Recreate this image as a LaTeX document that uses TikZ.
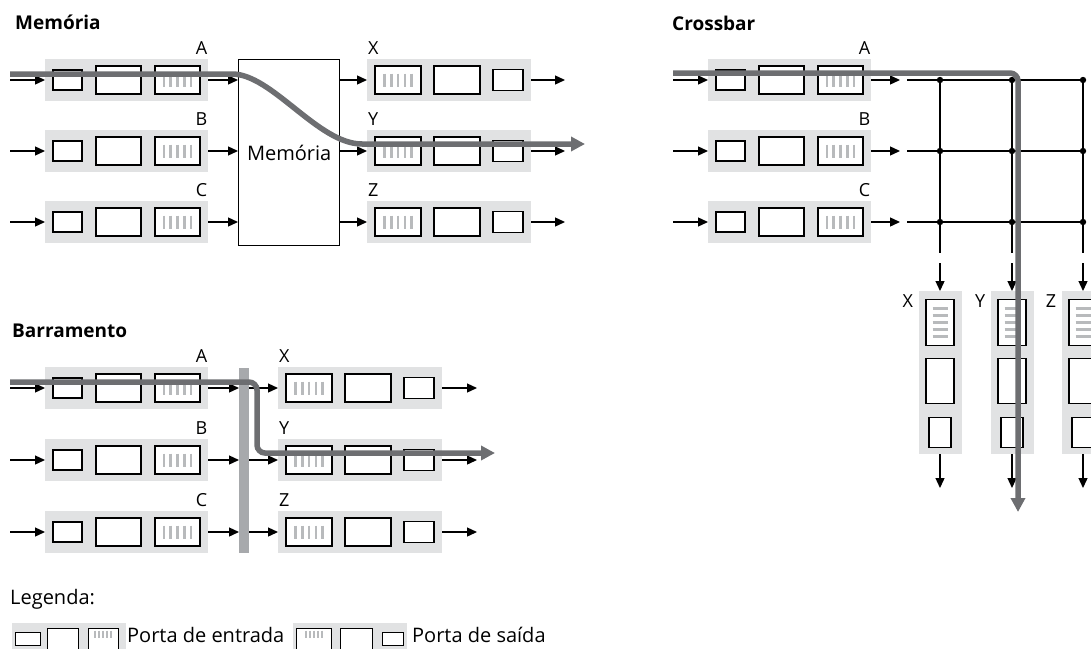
\documentclass[tikz,border=0pt]{standalone}
\usepackage{fontspec}
\setmainfont{Open Sans}
\usetikzlibrary{arrows.meta,positioning,calc}
\definecolor{bandgray}{HTML}{E1E2E3}
\definecolor{routegray}{HTML}{6D6E71}
\definecolor{busgray}{HTML}{A7A9AC}
\definecolor{stripegray}{HTML}{B8BABC}
% grey bars inside a buffer box
\newcommand{\vstripes}[1]{\foreach \k in {-2,...,2} \draw[stripegray,line width=2.6pt] ($(#1.center)+(\k*6.8,-6.5)$) -- ++(0,13);}
\newcommand{\hstripes}[1]{\foreach \k in {-2,...,2} \draw[stripegray,line width=2.6pt] ($(#1.center)+(-7.5,\k*7)$) -- ++(15,0);}
% input port: name, left x, centre y, label
\newcommand{\inport}[4]{%
  \node[band,anchor=west] (#1) at (#2,#3) {};
  \node[bx,minimum width=29pt,minimum height=20pt] (#1-s) at ($(#1.west)+(22.5,0)$) {};
  \node[bx,minimum width=45pt,minimum height=28pt] (#1-m) at ($(#1.west)+(73.5,0)$) {};
  \node[bx,minimum width=45pt,minimum height=28pt] (#1-q) at ($(#1.west)+(132.5,0)$) {};
  \vstripes{#1-q}
  \node[lbl,anchor=base east] (#1-l) at ($(#1.north east)+(-1,-4)$) {#4};
}
% output port: name, left x, centre y, label
\newcommand{\outport}[4]{%
  \node[band,anchor=west,minimum width=164pt] (#1) at (#2,#3) {};
  \node[bx,minimum width=46pt,minimum height=28pt] (#1-q) at ($(#1.west)+(31,0)$) {};
  \node[bx,minimum width=46pt,minimum height=28pt] (#1-m) at ($(#1.west)+(90,0)$) {};
  \node[bx,minimum width=30pt,minimum height=21pt] (#1-s) at ($(#1.west)+(141,0)$) {};
  \vstripes{#1-q}
  \node[lbl,anchor=base west] (#1-l) at ($(#1.north west)+(1,-4)$) {#4};
}
% output port standing upright: name, centre x, top y, label
\newcommand{\colport}[4]{%
  \node[band,anchor=north,minimum width=43pt,minimum height=163pt] (#1) at (#2,#3) {};
  \node[bx,minimum width=28pt,minimum height=46pt,anchor=north] (#1-q) at ($(#1.north)+(0,8)$) {};
  \node[bx,minimum width=28pt,minimum height=45pt,anchor=north] (#1-m) at ($(#1.north)+(0,67)$) {};
  \node[bx,minimum width=22pt,minimum height=30pt,anchor=north] (#1-s) at ($(#1.north)+(0,126)$) {};
  \hstripes{#1-q}
  \node[lbl,anchor=north east] (#1-l) at ($(#1.north west)+(-5,3)$) {#4};
}

\begin{document}
\begin{tikzpicture}[x=1pt,y=-1pt,
    band/.style={fill=bandgray,inner sep=0pt,minimum width=163pt,minimum height=42pt},
    bx/.style={draw,fill=white,line width=1.3pt,inner sep=0pt},
    lbl/.style={inner sep=0pt,font=\fontsize{18}{20}\selectfont},
    ttl/.style={inner sep=0pt,anchor=base west,font=\fontsize{19}{22}\selectfont\bfseries},
    txt/.style={inner sep=0pt,font=\fontsize{20}{24}\selectfont},
    ar/.style={-{Triangle[length=10pt,width=9pt]},line width=1.3pt},
    grid/.style={line width=1.5pt},
    route/.style={draw=routegray,line width=5.5pt,-{Triangle[length=14pt,width=14pt]}}
]
\useasboundingbox (0,0) rectangle (1091,648);
\clip (0,0) rectangle (1091,648);

% Memoria
\node[ttl] (t-mem) at (15,29) {Memória};
\node[draw,line width=1.3pt,minimum width=101pt,minimum height=186pt,anchor=north west,txt] (mem) at (238,59) {Memória};
\foreach \n/\y/\lin/\lout in {a/80/A/X,b/151/B/Y,c/222/C/Z}{
  \inport{mi\n}{45}{\y}{\lin}
  \outport{mo\n}{367}{\y}{\lout}
  \coordinate (mi\n-in) at (10,\y);
  \coordinate (mo\n-out) at (565,\y);
  \draw[ar] (mi\n-in) -- (mi\n);
  \draw[ar] (mi\n) -- (mi\n -| mem.west);
  \draw[ar] (mem.east |- mo\n) -- (mo\n);
  \draw[ar] (mo\n) -- (mo\n-out);
}
\coordinate (r1-s) at (10,74);
\coordinate (r1-e) at (585,144);
\draw[route] (r1-s) -- (232,74) .. controls (272,74) and (318,144) .. (362,144) -- (r1-e);

% Crossbar
\node[ttl] (t-xb) at (672,30) {Crossbar};
\foreach \n/\y/\lin in {a/80/A,b/151/B,c/222/C}{
  \inport{xi\n}{708}{\y}{\lin}
  \coordinate (xi\n-in) at (673,\y);
  \coordinate (xi\n-out) at (900,\y);
  \coordinate (h\n) at (907,\y);
  \draw[ar] (xi\n-in) -- (xi\n);
  \draw[ar] (xi\n) -- (xi\n-out);
}
\foreach \n/\x/\lout in {x/940/X,y/1012/Y,z/1083/Z}{
  \colport{xo\n}{\x}{291}{\lout}
  \coordinate (v\n-top) at (\x,80);
  \coordinate (v\n-end) at (\x,253);
  \coordinate (v\n-in) at (\x,263);
  \coordinate (v\n-out) at (\x,488);
  \draw[grid] (v\n-top) -- (v\n-end);
  \draw[ar] (v\n-in) -- (xo\n);
  \draw[ar] (xo\n) -- (v\n-out);
}
\foreach \n in {a,b,c}{
  \draw[grid] (h\n) -- (vz-top |- h\n);
  \foreach \m in {x,y,z} \fill (v\m-top |- h\n) circle (3.2pt);
}
\coordinate (r2-s) at (673,73);
\coordinate (r2-e) at (1018,512);
\draw[route,rounded corners=8pt] (r2-s) -| (r2-e);

% Barramento
\node[ttl] (t-bus) at (12,337) {Barramento};
\node[fill=busgray,inner sep=0pt,minimum width=10pt,minimum height=185pt,anchor=north west] (bus) at (239,368) {};
\foreach \n/\y/\lin/\lout in {a/388/A/X,b/460/B/Y,c/532/C/Z}{
  \inport{bi\n}{45}{\y}{\lin}
  \outport{bo\n}{278}{\y}{\lout}
  \coordinate (bi\n-in) at (10,\y);
  \coordinate (bo\n-out) at (477,\y);
  \draw[ar] (bi\n-in) -- (bi\n);
  \draw[ar] (bi\n) -- (bi\n -| bus.west);
  \draw[ar] (bus.east |- bo\n) -- (bo\n);
  \draw[ar] (bo\n) -- (bo\n-out);
}
\coordinate (r3-s) at (10,382);
\coordinate (r3-k) at (257,453);
\coordinate (r3-e) at (495,453);
\draw[route,rounded corners=8pt] (r3-s) -| (r3-k) -- (r3-e);

% Legenda
\node[txt,anchor=base west] (leg) at (10,604) {Legenda:};
\node[fill=bandgray,inner sep=0pt,minimum width=114pt,minimum height=32pt,anchor=north west] (lg-in) at (12,623) {};
\node[bx,line width=1pt,minimum width=25pt,minimum height=13pt] (lg-in-s) at (28,638.5) {};
\node[bx,line width=1pt,minimum width=31pt,minimum height=21pt,anchor=north west] (lg-in-m) at (47,628) {};
\node[bx,line width=1pt,minimum width=30pt,minimum height=21pt,anchor=north west] (lg-in-q) at (87.5,628) {};
\node[txt,anchor=base west] (lg-in-t) at (127,642) {Porta de entrada};
\node[fill=bandgray,inner sep=0pt,minimum width=114pt,minimum height=32pt,anchor=north west] (lg-out) at (293,623) {};
\node[bx,line width=1pt,minimum width=35pt,minimum height=21pt,anchor=north west] (lg-out-q) at (296,628) {};
\node[bx,line width=1pt,minimum width=32pt,minimum height=21pt,anchor=north west] (lg-out-m) at (340,628) {};
\node[bx,line width=1pt,minimum width=21pt,minimum height=13pt] (lg-out-s) at (392.5,638.5) {};
\node[txt,anchor=base west] (lg-out-t) at (412,642) {Porta de saída};
\foreach \k in {-2,...,2}{
  \draw[stripegray,line width=1.5pt] ($(lg-in-q.north)+(\k*4,2.5)$) -- ++(0,7);
  \draw[stripegray,line width=1.5pt] ($(lg-out-q.north)+(\k*4,2.5)$) -- ++(0,7);
}
\end{tikzpicture}
\end{document}
